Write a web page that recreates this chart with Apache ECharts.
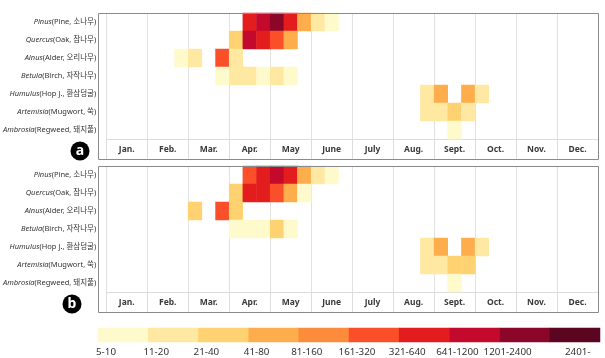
<!DOCTYPE html>
<html>
<head>
<meta charset="utf-8">
<script src="https://cdn.jsdelivr.net/npm/echarts@6/dist/echarts.min.js"></script>
<style>
html,body{margin:0;padding:0;background:#fff;}
#chart{width:605px;height:358px;}
</style>
</head>
<body>
<div id="chart"></div>
<script>
// ---- data ----
var months = ['Jan.','Feb.','Mar.','Apr.','May','June','July','Aug.','Sept.','Oct.','Nov.','Dec.'];
var dekads = ['Jan-1','Jan-2','Jan-3','Feb-1','Feb-2','Feb-3','Mar-1','Mar-2','Mar-3','Apr-1','Apr-2','Apr-3',
              'May-1','May-2','May-3','Jun-1','Jun-2','Jun-3','Jul-1','Jul-2','Jul-3','Aug-1','Aug-2','Aug-3',
              'Sep-1','Sep-2','Sep-3','Oct-1','Oct-2','Oct-3','Nov-1','Nov-2','Nov-3','Dec-1','Dec-2','Dec-3'];
var genus = ['Pinus','Quercus','Alnus','Betula','Humulus','Artemisia','Ambrosia'];
var common = ['(Pine, 소나무)','(Oak, 참나무)','(Alder, 오리나무)','(Birch, 자작나무)','(Hop J., 환삼덩굴)','(Mugwort, 쑥)','(Regweed, 돼지풀)'];
var classLabels = ['5-10','11-20','21-40','41-80','81-160','161-320','321-640','641-1200','1201-2400','2401-'];
var classLevels = [1,2,3,4,5,6,7,8,9,10];

// [dekad index, pollen index, concentration class]
var panelA = [
  [10,0,7],[11,0,8],[12,0,9],[13,0,7],[14,0,4],[15,0,2],[16,0,1],
  [9,1,3],[10,1,8],[11,1,7],[12,1,6],[13,1,4],
  [5,2,1],[6,2,2],[8,2,6],[9,2,2],
  [8,3,1],[9,3,2],[10,3,2],[11,3,1],[12,3,2],[13,3,1],
  [23,4,2],[24,4,4],[26,4,4],[27,4,2],
  [23,5,2],[24,5,2],[25,5,3],[26,5,2],
  [25,6,1]
];
var panelB = [
  [10,0,6],[11,0,7],[12,0,8],[13,0,7],[14,0,4],[15,0,2],[16,0,1],
  [9,1,3],[10,1,7],[11,1,7],[12,1,6],[13,1,4],[14,1,1],
  [6,2,3],[8,2,6],[9,2,3],
  [9,3,1],[10,3,1],[11,3,1],[12,3,3],[13,3,1],
  [23,4,2],[24,4,4],[26,4,4],[27,4,2],
  [23,5,2],[24,5,2],[25,5,3],[26,5,3],
  [25,6,1]
];

// ---- styles ----
var palette = ['#FFFACB','#FEE8A2','#FED271','#FDAD4B','#FD8B3C','#FB4F2A','#E31D1D','#C30A2C','#8B0629','#5C0520'];
var panels = [{top:13, badge:'a', bx:80, by:151},{top:166, badge:'b', bx:72, by:304}];
var L = 98, W = 500, ROWS_H = 126, LABEL_H = 20;
var lgTop = 328, lgH = 14, lgW = 502;

var yLabels = genus.map(function(g,i){ return g + '|' + common[i]; });

var grids = [], xAxes = [], yAxes = [], series = [], graphics = [];
panels.forEach(function(p, k){
  grids.push({left:L, top:p.top, width:W, height:ROWS_H, show:false});
  xAxes.push({type:'category', gridIndex:k, data:dekads, show:false, boundaryGap:true});
  xAxes.push({type:'category', gridIndex:k, data:months, position:'bottom', boundaryGap:true,
    axisLine:{show:true, lineStyle:{color:'#dcdcdc', width:1}},
    axisTick:{show:true, length:LABEL_H, inside:false, alignWithLabel:false, interval:0, lineStyle:{color:'#dcdcdc'}},
    axisLabel:{interval:0, margin:6, color:'#3a3a3a', fontSize:8.5, fontWeight:'bold', fontFamily:'Noto Sans'},
    splitLine:{show:true, interval:0, lineStyle:{color:'#e2e2e2', width:1}}
  });
  yAxes.push({type:'category', gridIndex:k, data:yLabels, inverse:true,
    axisLine:{show:false}, axisTick:{show:false}, splitLine:{show:false},
    axisLabel:{margin:10, fontSize:7.5, color:'#333', fontFamily:'Noto Sans, Noto Sans CJK KR',
      formatter:function(v){ var s=v.split('|'); return '{i|'+s[0]+'}{n|'+s[1]+'}'; },
      rich:{ i:{fontStyle:'italic', fontSize:7.5, color:'#333', fontFamily:'Noto Sans'},
             n:{fontSize:7.5, color:'#333', fontFamily:'Noto Sans, Noto Sans CJK KR'} }
    }
  });
  series.push({type:'heatmap', xAxisIndex:2*k, yAxisIndex:k, data:(k===0?panelA:panelB),
    itemStyle:{borderWidth:0}, emphasis:{disabled:true}, silent:true});
  graphics.push({type:'rect', shape:{x:L+0.5, y:p.top+0.5, width:W, height:ROWS_H+LABEL_H},
    style:{fill:'none', stroke:'#8a8a8a', lineWidth:1}, z:100});
  graphics.push({type:'circle', shape:{cx:p.bx, cy:p.by, r:9.5}, style:{fill:'#000'}, z:100});
  graphics.push({type:'text', x:p.bx, y:p.by, style:{text:p.badge, fill:'#fff', fontSize:14, fontWeight:'bold',
    fontFamily:'Noto Sans', textAlign:'center', textVerticalAlign:'middle'}, z:101});
});

// legend as a heatmap strip
grids.push({left:L, top:lgTop, width:lgW, height:lgH, show:false});
xAxes.push({type:'category', gridIndex:2, data:classLabels, show:false});
yAxes.push({type:'category', gridIndex:2, data:['k'], show:false});
series.push({type:'heatmap', xAxisIndex:4, yAxisIndex:2,
  data:classLevels.map(function(v,i){ return [i,0,v]; }), silent:true, emphasis:{disabled:true}});
var cw = lgW/classLabels.length;
classLabels.forEach(function(t,i){
  var cx = (i === classLabels.length-1) ? L + cw*i + 28 : L + cw*i + 8;
  graphics.push({type:'text', x:cx, y:352, style:{text:t, fill:'#333', fontSize:9.8, fontFamily:'Noto Sans',
    textAlign:'center', textVerticalAlign:'middle'}});
});

var chart = echarts.init(document.getElementById('chart'), null, {renderer:'canvas'});
chart.setOption({
  animation:false,
  backgroundColor:'#fff',
  grid:grids, xAxis:xAxes, yAxis:yAxes,
  visualMap:{type:'piecewise', show:false, seriesIndex:[0,1,2], dimension:2,
    pieces:classLevels.map(function(v,i){ return {value:v, color:palette[i]}; })},
  series:series,
  graphic:graphics
});
</script>
</body>
</html>
